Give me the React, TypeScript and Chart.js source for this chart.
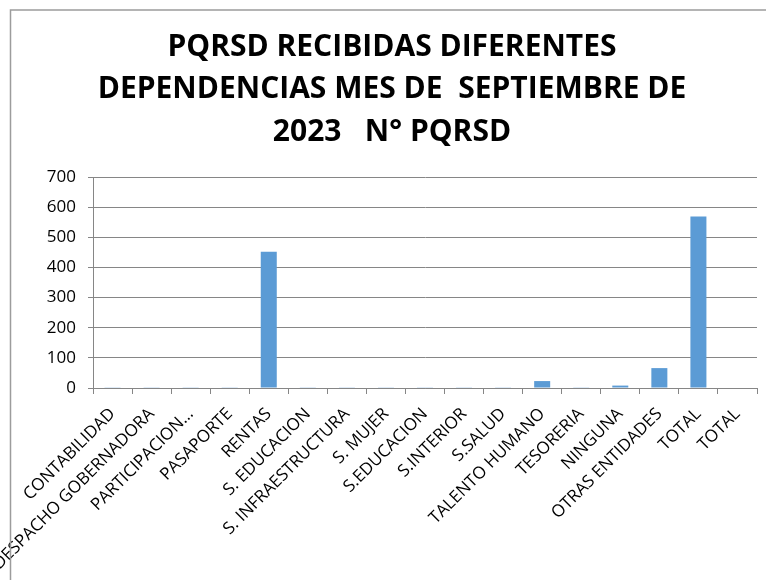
import React, { useEffect, useRef } from "react";
import { Chart, registerables } from "chart.js";

Chart.register(...registerables);

const titleLines = [
  "PQRSD RECIBIDAS DIFERENTES",
  "DEPENDENCIAS MES DE  SEPTIEMBRE DE",
  "2023   N° PQRSD",
];

const categories = [
  "CONTABILIDAD",
  "DESPACHO GOBERNADORA",
  "PARTICIPACION…",
  "PASAPORTE",
  "RENTAS",
  "S. EDUCACION",
  "S. INFRAESTRUCTURA",
  "S. MUJER",
  "S.EDUCACION",
  "S.INTERIOR",
  "S.SALUD",
  "TALENTO HUMANO",
  "TESORERIA",
  "NINGUNA",
  "OTRAS ENTIDADES",
  "TOTAL",
  "TOTAL",
];

const values = [1, 1, 1, 1, 452, 1, 1, 1, 1, 1, 1, 23, 1, 8, 66, 569, 0];

const yTicks = [0, 100, 200, 300, 400, 500, 600, 700];

const framePlugin = {
  id: "frame",
  afterDraw(chart: any) {
    const ctx = chart.ctx;
    ctx.save();
    ctx.strokeStyle = "#9c9c9c";
    ctx.lineWidth = 1.5;
    ctx.beginPath();
    ctx.moveTo(10.5, 580);
    ctx.lineTo(10.5, 10);
    ctx.lineTo(766, 10);
    ctx.stroke();
    // title
    ctx.fillStyle = "#000";
    ctx.font = "bold 30px 'Open Sans', sans-serif";
    ctx.textAlign = "center";
    ctx.textBaseline = "middle";
    const centers = [47, 89.5, 132];
    titleLines.forEach((line, i) => ctx.fillText(line, 392, centers[i]));
    ctx.restore();
  },
};

export default function App() {
  const ref = useRef<HTMLCanvasElement | null>(null);

  useEffect(() => {
    document.body.style.margin = "0";
    if (!ref.current) return;
    const chart = new Chart(ref.current, {
      type: "bar",
      data: {
        labels: categories,
        datasets: [
          {
            label: "N° PQRSD",
            data: values,
            backgroundColor: "#5B9BD5",
            borderWidth: 0,
            barPercentage: 0.41,
            categoryPercentage: 1,
          },
        ],
      },
      options: {
        responsive: false,
        animation: false,
        maintainAspectRatio: false,
        layout: { padding: { left: 0, right: 9, top: 177, bottom: 0 } },
        plugins: {
          legend: { display: false },
          tooltip: { enabled: false },
          title: { display: false },
        },
        scales: {
          x: {
            grid: {
              offset: true,
              drawOnChartArea: false,
              drawTicks: true,
              tickLength: 6,
              color: "#868686",
            },
            border: { display: true, color: "#868686" },
            ticks: {
              autoSkip: false,
              maxRotation: 45,
              minRotation: 45,
              color: "#000",
              padding: 10,
              font: { family: "'Open Sans', sans-serif", size: 17 },
            },
            afterFit(scale: any) {
              scale.height = 192;
              scale.paddingLeft = 0;
              scale.paddingRight = 0;
            },
          },
          y: {
            min: 0,
            max: 700,
            afterBuildTicks(scale: any) {
              scale.ticks = yTicks.map((v) => ({ value: v }));
            },
            grid: { color: "#868686", tickLength: 5 },
            border: { display: true, color: "#868686" },
            ticks: {
              color: "#000",
              padding: 12,
              font: { family: "'Open Sans', sans-serif", size: 17 },
            },
            afterFit(scale: any) {
              scale.width = 93;
              scale.paddingTop = 0;
              scale.paddingBottom = 0;
            },
          },
        },
      },
      plugins: [framePlugin],
    });
    return () => chart.destroy();
  }, []);

  return <canvas ref={ref} width={766} height={580} style={{ display: "block" }} />;
}
